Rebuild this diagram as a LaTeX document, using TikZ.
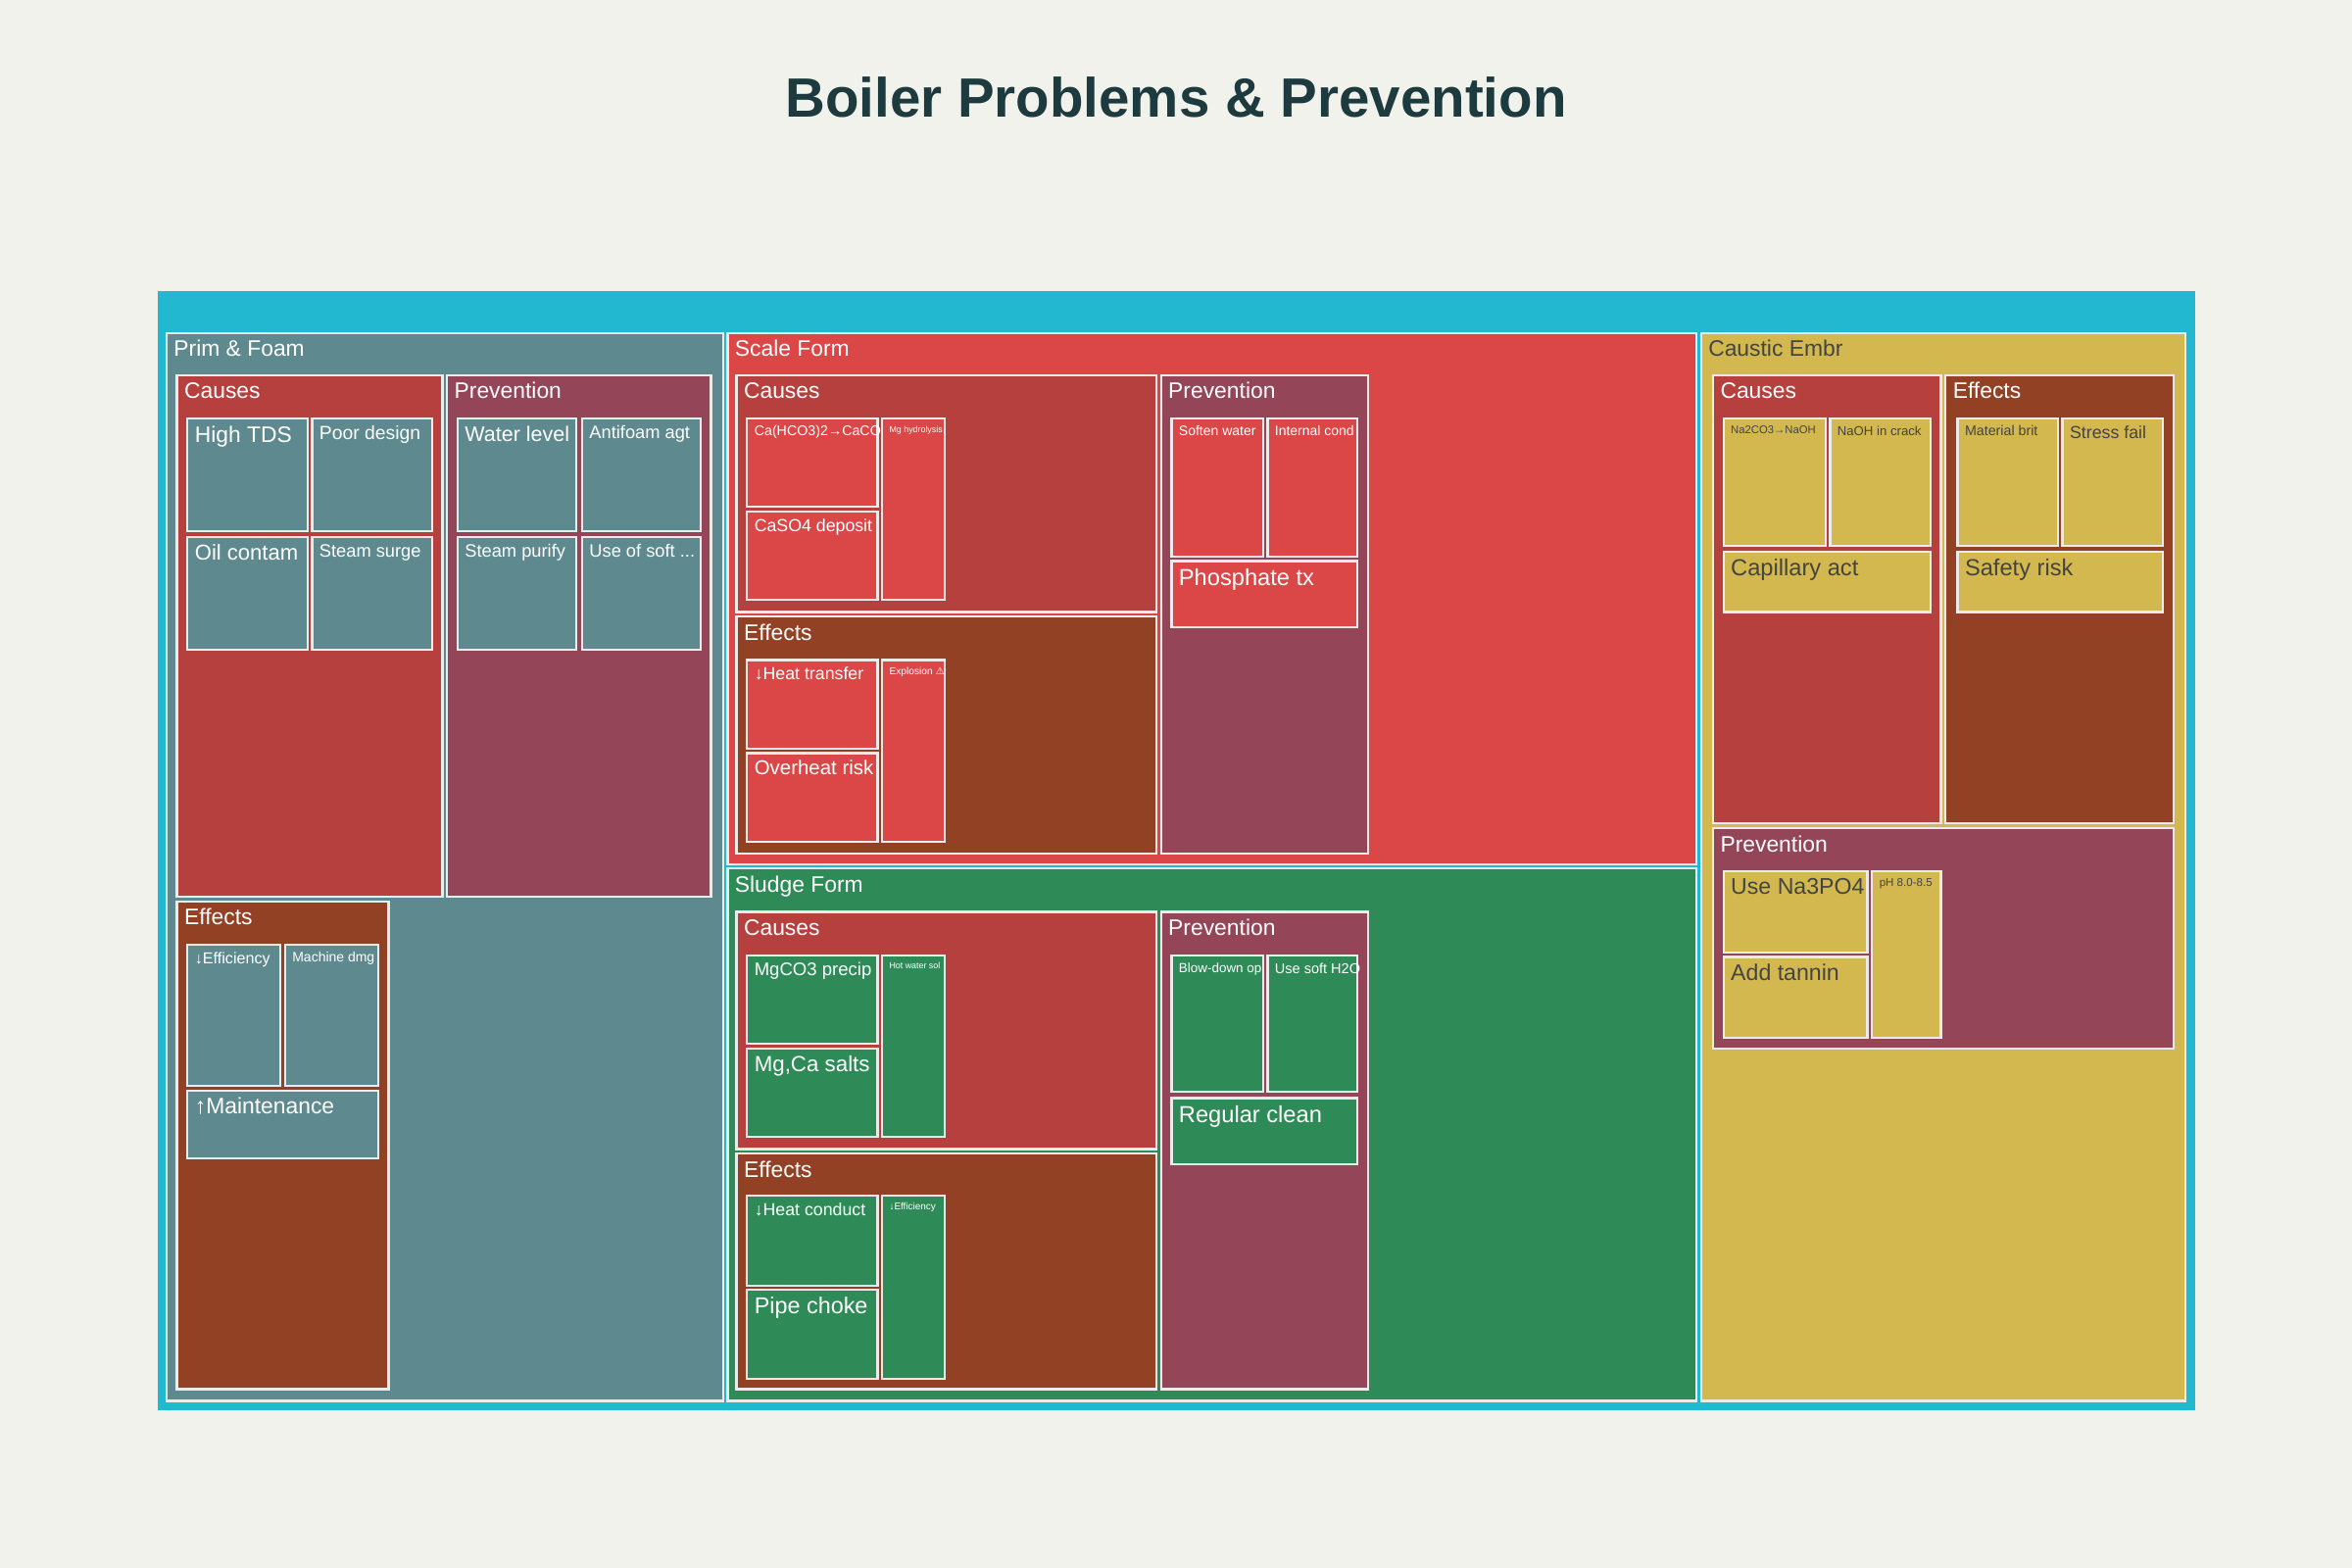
\documentclass[tikz,border=0pt]{standalone}
\usepackage{fontspec}
\setmainfont{Liberation Sans}
\newfontfamily\symfont{DejaVu Sans}
\definecolor{cBg}{HTML}{F2F2EC}
\definecolor{cRoot}{HTML}{22B8CF}
\definecolor{cFoam}{HTML}{5E8A8F}
\definecolor{cScale}{HTML}{DB4646}
\definecolor{cSludge}{HTML}{2E8B57}
\definecolor{cCaus}{HTML}{D2B84E}
\definecolor{cCause}{HTML}{B5403D}
\definecolor{cEffect}{HTML}{934124}
\definecolor{cPrev}{HTML}{944558}
\definecolor{cTitle}{HTML}{1D3A3F}
\definecolor{cInk}{HTML}{444444}
\newcommand\fs[1]{\fontsize{#1}{#1}\selectfont}
% name, x1, y1, x2, y2, fill, text
\newcommand\cell[7]{%
  \node[cell,fill=#6,minimum width={(#4-#2)*0.02cm},minimum height={(#5-#3)*0.02cm},
        label={[lbl]north west:#7}] (#1) at (#2,#3) {};}
\tikzset{
  cell/.style={draw=white!92!black,line width=0.85pt,anchor=north west,inner sep=0pt,outer sep=0pt},
  lbl/.style={anchor=north west,inner sep=2.6pt,text=white,align=left}
}
\begin{document}
\begin{tikzpicture}[x=0.02cm,y=-0.02cm]
\fill[cBg] (0,0) rectangle (1568,1045);
\useasboundingbox (0,0) rectangle (1568,1045);
\node[font=\bfseries\fs{21}, text=cTitle] (title) at (784,65) {Boiler Problems \& Prevention};

\node[anchor=north west,fill=cRoot,inner sep=0pt,minimum width={1358*0.02cm},minimum height={746*0.02cm}] (root) at (105,194) {};

% Prim & Foam
\cell{foam}{111}{222}{482}{934}{cFoam}{\fs{8.5}Prim \& Foam}
\cell{foamC}{118}{250}{295}{598}{cCause}{\fs{8.5}Causes}
\cell{tds}{125}{279}{205}{354}{cFoam}{\fs{8.5}High TDS}
\cell{design}{208}{279}{288}{354}{cFoam}{\fs{7.2}Poor design}
\cell{oil}{125}{358}{205}{433}{cFoam}{\fs{8.2}Oil contam}
\cell{surge}{208}{358}{288}{433}{cFoam}{\fs{6.8}Steam surge}
\cell{foamP}{298}{250}{474}{598}{cPrev}{\fs{8.5}Prevention}
\cell{level}{305}{279}{384}{354}{cFoam}{\fs{8}Water level}
\cell{antifoam}{388}{279}{467}{354}{cFoam}{\fs{6.8}Antifoam agt}
\cell{purify}{305}{358}{384}{433}{cFoam}{\fs{6.8}Steam purify}
\cell{softuse}{388}{358}{467}{433}{cFoam}{\fs{6.8}Use of soft ...}
\cell{foamE}{118}{601}{259}{926}{cEffect}{\fs{8.5}Effects}
\cell{effic}{125}{630}{187}{724}{cFoam}{\fs{6}↓Efficiency}
\cell{machine}{190}{630}{252}{724}{cFoam}{\fs{5.2}Machine dmg}
\cell{maint}{125}{727}{252}{772}{cFoam}{\fs{8.5}↑Maintenance}

% Scale Form
\cell{scale}{485}{222}{1131}{576}{cScale}{\fs{8.5}Scale Form}
\cell{scaleC}{491}{250}{771}{408}{cCause}{\fs{8.5}Causes}
\cell{caco}{498}{279}{585}{338}{cScale}{\fs{5.3}Ca(HCO3)2→CaCO3}
\cell{caso}{498}{341}{585}{400}{cScale}{\fs{6.6}CaSO4 deposit}
\cell{mghyd}{588}{279}{630}{400}{cScale}{\fs{3.3}Mg hydrolysis}
\cell{scaleE}{491}{411}{771}{569}{cEffect}{\fs{8.5}Effects}
\cell{heatt}{498}{440}{585}{499}{cScale}{\fs{6.6}↓Heat transfer}
\cell{overheat}{498}{502}{585}{561}{cScale}{\fs{7.6}Overheat risk}
\cell{explo}{588}{440}{630}{561}{cScale}{\fs{3.8}Explosion {\symfont ⚠}}
\cell{scaleP}{774}{250}{912}{569}{cPrev}{\fs{8.5}Prevention}
\cell{soften}{781}{279}{842}{371}{cScale}{\fs{5.2}Soften water}
\cell{intcond}{845}{279}{905}{371}{cScale}{\fs{5.2}Internal cond}
\cell{phos}{781}{374}{905}{418}{cScale}{\fs{8.8}Phosphate tx}

% Sludge Form
\cell{sludge}{485}{579}{1131}{934}{cSludge}{\fs{8.5}Sludge Form}
\cell{sludgeC}{491}{608}{771}{766}{cCause}{\fs{8.5}Causes}
\cell{mgco}{498}{637}{585}{696}{cSludge}{\fs{6.9}MgCO3 precip}
\cell{salts}{498}{699}{585}{758}{cSludge}{\fs{8.3}Mg,Ca salts}
\cell{hotw}{588}{637}{630}{758}{cSludge}{\fs{3.3}Hot water sol}
\cell{sludgeE}{491}{769}{771}{926}{cEffect}{\fs{8.5}Effects}
\cell{heatc}{498}{797}{585}{857}{cSludge}{\fs{6.6}↓Heat conduct}
\cell{choke}{498}{860}{585}{919}{cSludge}{\fs{8.7}Pipe choke}
\cell{effs}{588}{797}{630}{919}{cSludge}{\fs{3.7}↓Efficiency}
\cell{sludgeP}{774}{608}{912}{926}{cPrev}{\fs{8.5}Prevention}
\cell{blow}{781}{637}{842}{728}{cSludge}{\fs{5}Blow-down op}
\cell{softh}{845}{637}{905}{728}{cSludge}{\fs{5.4}Use soft H2O}
\cell{clean}{781}{732}{905}{776}{cSludge}{\fs{8.8}Regular clean}

% Caustic Embr
\cell{caus}{1134}{222}{1457}{934}{cCaus}{\fs{8.5}\color{cInk}Caustic Embr}
\cell{causC}{1142}{250}{1294}{549}{cCause}{\fs{8.5}Causes}
\cell{naoh}{1149}{279}{1217}{364}{cCaus}{\fs{4.2}\color{cInk}Na2CO3→NaOH}
\cell{crack}{1220}{279}{1287}{364}{cCaus}{\fs{4.9}\color{cInk}NaOH in crack}
\cell{capil}{1149}{368}{1287}{408}{cCaus}{\fs{8.8}\color{cInk}Capillary act}
\cell{causE}{1297}{250}{1449}{549}{cEffect}{\fs{8.5}Effects}
\cell{brit}{1305}{279}{1372}{364}{cCaus}{\fs{5.3}\color{cInk}Material brit}
\cell{stress}{1375}{279}{1442}{364}{cCaus}{\fs{6.6}\color{cInk}Stress fail}
\cell{safety}{1305}{368}{1442}{408}{cCaus}{\fs{8.8}\color{cInk}Safety risk}
\cell{causP}{1142}{552}{1449}{699}{cPrev}{\fs{8.5}Prevention}
\cell{napo}{1149}{581}{1245}{635}{cCaus}{\fs{8.6}\color{cInk}Use Na3PO4}
\cell{tannin}{1149}{638}{1245}{692}{cCaus}{\fs{8.6}\color{cInk}Add tannin}
\cell{ph}{1248}{581}{1294}{692}{cCaus}{\fs{4.3}\color{cInk}pH 8.0-8.5}
\end{tikzpicture}
\end{document}
